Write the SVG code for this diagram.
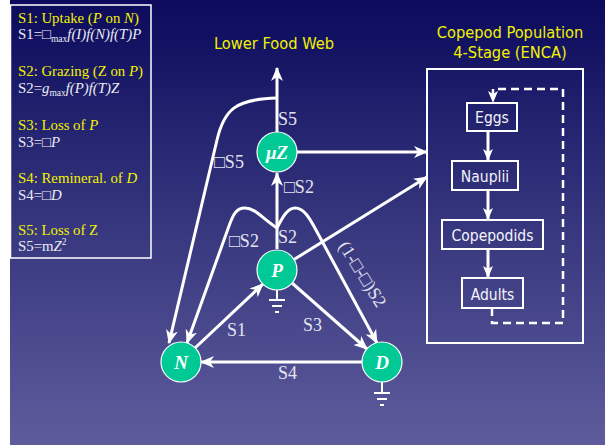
<svg xmlns="http://www.w3.org/2000/svg" width="605" height="445" viewBox="0 0 605 445">
<defs>
<linearGradient id="bg" x1="0" y1="0" x2="0" y2="1">
<stop offset="0" stop-color="#0b0a5c"/>
<stop offset="0.5" stop-color="#36367e"/>
<stop offset="1" stop-color="#5e5c9c"/>
</linearGradient>
<marker id="ah" markerWidth="14" markerHeight="12" refX="13" refY="6" orient="auto" markerUnits="userSpaceOnUse">
<path d="M0,0 L14,6 L0,12 L4,6 z" fill="#fff"/>
</marker>
<marker id="ahs" markerWidth="12" markerHeight="10" refX="11" refY="5" orient="auto" markerUnits="userSpaceOnUse">
<path d="M0,0 L12,5 L0,10 L3,5 z" fill="#fff"/>
</marker>
</defs>
<style>
.lbl{font-family:"Liberation Serif","Times New Roman",serif;font-size:18px;fill:#e4e4f0}
.yl{font-family:"Liberation Serif","Times New Roman",serif;font-size:14.8px;fill:#f2f200}
.wl{font-family:"Liberation Serif","Times New Roman",serif;font-size:14.8px;fill:#ececf4}
.i{font-style:italic}
.sub{font-size:9.5px}
.ttl{font-family:"DejaVu Sans Condensed","DejaVu Sans",sans-serif;font-stretch:condensed;font-size:16.3px;fill:#f2f200;text-anchor:middle}
.stg{font-family:"DejaVu Sans Condensed","DejaVu Sans",sans-serif;font-stretch:condensed;font-size:15.5px;fill:#f4f4fa;text-anchor:middle}
.node circle{fill:#00c995;stroke:#ffffff;stroke-width:1.2}
.node text{font-family:"Liberation Serif","Times New Roman",serif;font-size:19px;font-weight:bold;font-style:italic;fill:#ffffff;text-anchor:middle}
.con{fill:none;stroke:#ffffff;stroke-width:3;marker-end:url(#ah)}
.gnd{fill:none;stroke:#ffffff;stroke-width:2}
.box{fill:none;stroke:#ffffff;stroke-width:2}
</style>
<rect x="0" y="0" width="605" height="445" fill="#ffffff"/>
<rect x="10" y="0" width="595" height="445" fill="url(#bg)"/>

<g id="legend">
<rect x="10.5" y="5" width="140.5" height="253" fill="none" stroke="#ffffff" stroke-width="1.5"/>
<text class="yl" x="18" y="22.5">S1: Uptake (<tspan class="i">P</tspan> on <tspan class="i">N</tspan>)</text>
<text class="wl" x="18" y="38.5">S1=□<tspan class="sub" dy="3">max</tspan><tspan class="i" dy="-3">f(I)f(N)f(T)P</tspan></text>
<text class="yl" x="18" y="76">S2: Grazing (Z on <tspan class="i">P</tspan>)</text>
<text class="wl" x="18" y="93">S2=<tspan class="i">g</tspan><tspan class="sub" dy="3">max</tspan><tspan class="i" dy="-3">f(P)f(T)Z</tspan></text>
<text class="yl" x="18" y="129.5">S3: Loss of <tspan class="i">P</tspan></text>
<text class="wl" x="18" y="147">S3=□<tspan class="i">P</tspan></text>
<text class="yl" x="18" y="183">S4: Remineral. of <tspan class="i">D</tspan></text>
<text class="wl" x="18" y="199.5">S4=□<tspan class="i">D</tspan></text>
<text class="yl" x="18" y="235">S5: Loss of Z</text>
<text class="wl" x="18" y="251">S5=m<tspan class="i">Z</tspan><tspan class="sub" dy="-6">2</tspan></text>
</g>

<text class="ttl" x="274" y="49">Lower Food Web</text>

<g id="connectors">
<path class="con" d="M277,132 L277,68"/>
<path class="con" d="M277,98 C235,99 224,110 217,140 L169,343"/>
<path class="con" d="M277,249 L277,173"/>
<path class="con" d="M277,228 C262,218 255,208 245,208 C236,208 233,215 229,226 L187,343"/>
<path class="con" d="M277,228 C283,216 288,208 295,208 C304,208 309.5,218 316,230 L377,343"/>
<path class="con" d="M195,348 L263,284"/>
<path class="con" d="M292,283 L367,349"/>
<path class="con" d="M362,362 L201,362"/>
<path class="con" d="M297,152 L427,152"/>
<path class="con" d="M294,259.5 L427,177"/>
<path class="gnd" d="M277,290 L277,300 M269,300 L285,300 M272,306 L282,306 M275,312 L279,312"/>
<path class="gnd" d="M382,382 L382,393 M374,393 L390,393 M377,399 L387,399 M380,405 L384,405"/>
</g>

<g id="labels">
<text class="lbl" x="278" y="125">S5</text>
<text class="lbl" x="214" y="168">□S5</text>
<text class="lbl" x="284" y="193">□S2</text>
<text class="lbl" x="278" y="243">S2</text>
<text class="lbl" x="229" y="247">□S2</text>
<text class="lbl" x="227" y="336">S1</text>
<text class="lbl" x="303" y="331">S3</text>
<text class="lbl" x="278" y="379">S4</text>
<text class="lbl" transform="translate(338,246) rotate(58)" x="0" y="0">(1-□-□)S2</text>
</g>

<g id="node-Z" class="node"><circle cx="277" cy="152" r="20"/><text x="277" y="159">μZ</text></g>
<g id="node-P" class="node"><circle cx="277" cy="270" r="20"/><text x="277" y="277">P</text></g>
<g id="node-N" class="node"><circle cx="181" cy="362" r="20"/><text x="181" y="369">N</text></g>
<g id="node-D" class="node"><circle cx="382" cy="362" r="20"/><text x="382" y="369">D</text></g>

<g id="copepod">
<text class="ttl" x="510" y="38">Copepod Population</text>
<text class="ttl" x="510" y="58">4-Stage (ENCA)</text>
<rect class="box" x="427" y="69" width="156" height="274"/>
<g id="stage-eggs"><rect class="box" x="467" y="103" width="50" height="28"/><text class="stg" x="492" y="122.5">Eggs</text></g>
<g id="stage-nauplii"><rect class="box" x="452" y="161" width="66" height="29"/><text class="stg" x="485" y="181.5">Nauplii</text></g>
<g id="stage-copepodids"><rect class="box" x="442" y="220" width="101" height="29"/><text class="stg" x="492.5" y="240.5">Copepodids</text></g>
<g id="stage-adults"><rect class="box" x="462" y="278" width="61" height="30"/><text class="stg" x="492.5" y="299.5">Adults</text></g>
<g id="stage-connectors">
<path d="M488,131 L488,160" fill="none" stroke="#fff" stroke-width="3" marker-end="url(#ahs)"/>
<path d="M488,190 L488,219" fill="none" stroke="#fff" stroke-width="3" marker-end="url(#ahs)"/>
<path d="M488,249 L488,277" fill="none" stroke="#fff" stroke-width="3" marker-end="url(#ahs)"/>
<path d="M492,308 L492,323 L563,323 L563,89 L493,89 L493,102" fill="none" stroke="#fff" stroke-width="2.5" stroke-dasharray="8 5" marker-end="url(#ahs)"/>
</g>
</g>
</svg>
